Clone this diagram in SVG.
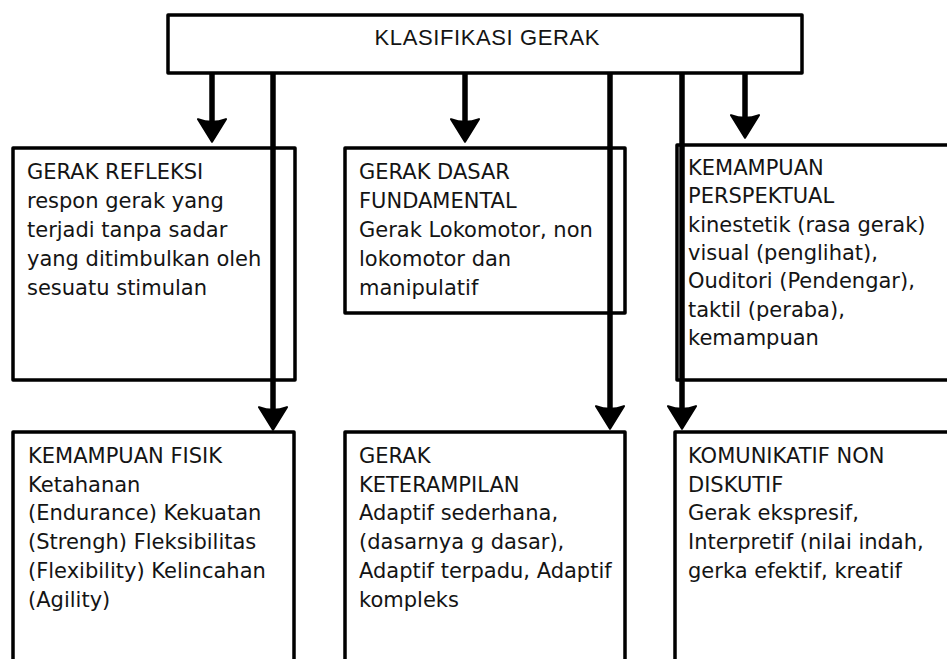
<svg xmlns="http://www.w3.org/2000/svg" width="947" height="659" viewBox="0 0 947 659">
<style>
.box{fill:#fff;stroke:#000;stroke-width:3.5;stroke-linejoin:round}
.t{font-family:"DejaVu Sans",sans-serif;font-size:21px;fill:#141414}
.title{font-family:"Liberation Sans",Arial,sans-serif;font-size:22px;fill:#141414}
.c{stroke:#000;stroke-width:5.5;fill:none}
</style>
<defs>
<marker id="ah" markerUnits="userSpaceOnUse" markerWidth="30" markerHeight="26" refX="14" refY="13" orient="0" viewBox="0 0 28 24">
<path d="M1 2 Q14 7 27 2 L14 23 Z" fill="#000" stroke="#000" stroke-width="2" stroke-linejoin="round"/>
</marker>
</defs>
<rect width="947" height="659" fill="#fff"/>
<g id="n-top">
<rect class="box" x="168" y="15" width="634" height="58"/>
<text class="title" x="487" y="45" text-anchor="middle" textLength="225">KLASIFIKASI GERAK</text>
</g>
<g id="n-refleksi">
<rect class="box" x="13" y="148" width="282" height="232"/>
<text class="t" x="27" y="179">GERAK REFLEKSI</text>
<text class="t" x="27" y="208">respon gerak yang</text>
<text class="t" x="27" y="237">terjadi tanpa sadar</text>
<text class="t" x="27" y="266">yang ditimbulkan oleh</text>
<text class="t" x="27" y="295">sesuatu stimulan</text>
</g>
<g id="n-dasar">
<rect class="box" x="345" y="148" width="280" height="165"/>
<text class="t" x="359" y="179">GERAK DASAR</text>
<text class="t" x="359" y="208">FUNDAMENTAL</text>
<text class="t" x="359" y="237">Gerak Lokomotor, non</text>
<text class="t" x="359" y="266">lokomotor dan</text>
<text class="t" x="359" y="295">manipulatif</text>
</g>
<g id="n-perspektual">
<rect class="box" x="677" y="145" width="290" height="235"/>
<text class="t" x="688" y="175">KEMAMPUAN</text>
<text class="t" x="688" y="203">PERSPEKTUAL</text>
<text class="t" x="688" y="232">kinestetik (rasa gerak)</text>
<text class="t" x="688" y="260">visual (penglihat),</text>
<text class="t" x="688" y="288">Ouditori (Pendengar),</text>
<text class="t" x="688" y="317">taktil (peraba),</text>
<text class="t" x="688" y="345">kemampuan</text>
</g>
<g id="n-fisik">
<rect class="box" x="13" y="432" width="281" height="240"/>
<text class="t" x="28" y="463">KEMAMPUAN FISIK</text>
<text class="t" x="28" y="492">Ketahanan</text>
<text class="t" x="28" y="520">(Endurance) Kekuatan</text>
<text class="t" x="28" y="549">(Strengh) Fleksibilitas</text>
<text class="t" x="28" y="578">(Flexibility) Kelincahan</text>
<text class="t" x="28" y="607">(Agility)</text>
</g>
<g id="n-keterampilan">
<rect class="box" x="345" y="432" width="280" height="240"/>
<text class="t" x="359" y="463">GERAK</text>
<text class="t" x="359" y="492">KETERAMPILAN</text>
<text class="t" x="359" y="520">Adaptif sederhana,</text>
<text class="t" x="359" y="549">(dasarnya g dasar),</text>
<text class="t" x="359" y="578">Adaptif terpadu, Adaptif</text>
<text class="t" x="359" y="607">kompleks</text>
</g>
<g id="n-komunikatif">
<rect class="box" x="675" y="432" width="292" height="240"/>
<text class="t" x="688" y="463">KOMUNIKATIF NON</text>
<text class="t" x="688" y="492">DISKUTIF</text>
<text class="t" x="688" y="520">Gerak ekspresif,</text>
<text class="t" x="688" y="549">Interpretif (nilai indah,</text>
<text class="t" x="688" y="578">gerka efektif, kreatif</text>
</g>
<g id="connectors">
<line class="c" x1="212" y1="73" x2="212" y2="131" marker-end="url(#ah)"/>
<line class="c" x1="465" y1="73" x2="465" y2="131" marker-end="url(#ah)"/>
<line class="c" x1="745" y1="73" x2="745" y2="127" marker-end="url(#ah)"/>
<line class="c" x1="273" y1="73" x2="273" y2="419" marker-end="url(#ah)"/>
<line class="c" x1="610" y1="73" x2="610" y2="418" marker-end="url(#ah)"/>
<line class="c" x1="682" y1="73" x2="682" y2="418" marker-end="url(#ah)"/>
</g>
</svg>
